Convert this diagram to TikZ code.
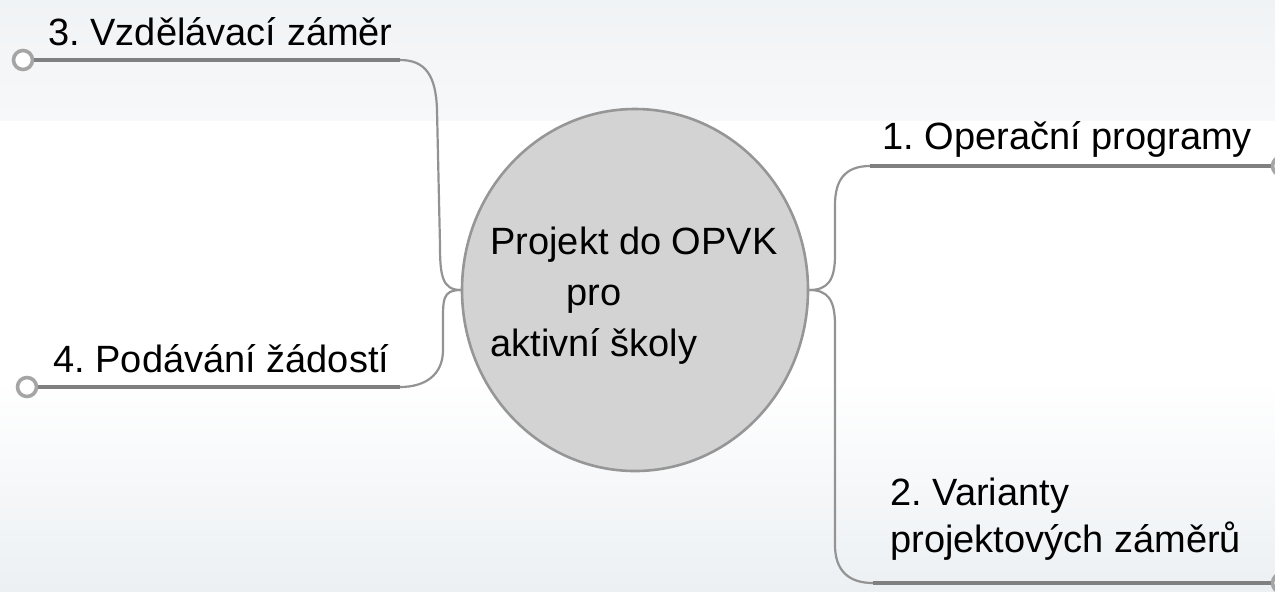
\documentclass[tikz,border=0pt]{standalone}
\usepackage{fontspec}
\setmainfont{Liberation Sans}
\usetikzlibrary{shapes.geometric}
\frenchspacing
\definecolor{bandtop}{RGB}{240,243,245}
\definecolor{bandlow}{RGB}{247,248,250}
\definecolor{footgray}{RGB}{236,240,243}
\definecolor{discgray}{RGB}{211,211,211}
\definecolor{rimgray}{RGB}{150,150,150}
\definecolor{wiregray}{RGB}{128,128,128}
\definecolor{knobgray}{RGB}{165,165,165}
\begin{document}
\begin{tikzpicture}[x=0.5pt,y=-0.5pt,
  disc/.style={ellipse,draw=rimgray,line width=1.3pt,fill=discgray,minimum width=173pt,minimum height=181pt,inner sep=0pt},
  wire/.style={draw=wiregray,line width=1.8pt},
  twig/.style={draw=wiregray!85,line width=1.1pt},
  knob/.style={circle,draw=knobgray,line width=1.8pt,fill=white,minimum size=9.5pt,inner sep=0pt},
  topic/.style={font=\fontsize{19}{23.5}\selectfont,inner sep=0pt,align=left},
  hubtext/.style={font=\fontsize{19}{25.5}\selectfont,inner sep=0pt,align=left}]
% background bands
\useasboundingbox (0,0) rectangle (1275,591);
\shade[top color=bandtop,bottom color=bandlow] (0,0) rectangle (1275,120);
\shade[top color=white,bottom color=footgray] (0,380) rectangle (1275,591);
% centre
\node[disc] (hub) at (635,290) {};
\node[hubtext] (title) at (634,296) {Projekt do OPVK\\\hspace*{38pt}pro\\aktivní školy};
% branch ends
\coordinate (c3) at (400,60);
\coordinate (c4) at (400,387);
\coordinate (c1) at (870,166);
\coordinate (c2) at (873,583);
\node[knob] (k3) at (23,60) {};
\node[knob] (k4) at (27,387) {};
\node[knob] (k1) at (1282,166) {};
\node[knob] (k2) at (1282,583) {};
% connectors
\draw[twig] (hub.west) .. controls (442,290) and (440,275) .. (440,245) -- (437,110) .. controls (436,75) and (425,60) .. (c3);
\draw[twig] (hub.west) .. controls (442,290) and (443,300) .. (443,325) -- (443,350) .. controls (443,375) and (425,387) .. (c4);
\draw[twig] (hub.east) .. controls (828,290) and (835,280) .. (835,255) -- (835,205) .. controls (835,180) and (845,166) .. (c1);
\draw[twig] (hub.east) .. controls (828,290) and (835,300) .. (835,325) -- (835,545) .. controls (835,570) and (848,583) .. (c2);
\draw[wire] (c3) -- (k3);
\draw[wire] (c4) -- (k4);
\draw[wire] (c1) -- (k1);
\draw[wire] (c2) -- (k2);
% labels
\node[topic,anchor=base west] (t3) at (48,45) {3. Vzdělávací záměr};
\node[topic,anchor=base west] (t4) at (53,372) {4. Podávání žádostí};
\node[topic,anchor=base west] (t1) at (882,149) {1. Operační programy};
\node[topic,anchor=north west] (t2) at (890,478) {2. Varianty\\projektových záměrů};
\end{tikzpicture}
\end{document}
